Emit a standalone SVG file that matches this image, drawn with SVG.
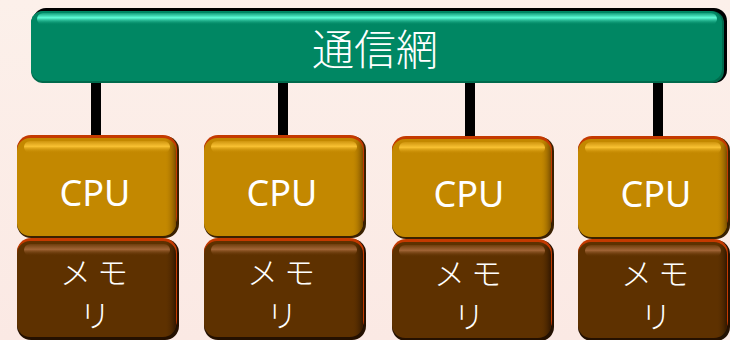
<svg xmlns="http://www.w3.org/2000/svg" width="730" height="340" viewBox="0 0 730 340">
<defs>
<linearGradient id="bg" x1="0" y1="0" x2="0" y2="1">
<stop offset="0" stop-color="#fcf0ea"/><stop offset="1" stop-color="#fbe9e4"/>
</linearGradient>
<linearGradient id="gHi" x1="0" y1="0" x2="0" y2="1">
<stop offset="0" stop-color="#60ffd8" stop-opacity="0.2"/><stop offset="0.4" stop-color="#60ffd8"/><stop offset="1" stop-color="#008763" stop-opacity="0"/>
</linearGradient>
<linearGradient id="cHi" x1="0" y1="0" x2="0" y2="1">
<stop offset="0" stop-color="#ffc840" stop-opacity="0.2"/><stop offset="0.45" stop-color="#ffc838" stop-opacity="0.9"/><stop offset="1" stop-color="#c38800" stop-opacity="0"/>
</linearGradient>
<linearGradient id="mHi" x1="0" y1="0" x2="0" y2="1">
<stop offset="0" stop-color="#b07040" stop-opacity="0.2"/><stop offset="0.45" stop-color="#a86a3c" stop-opacity="0.9"/><stop offset="1" stop-color="#5e3100" stop-opacity="0"/>
</linearGradient>
<linearGradient id="cSide" x1="0" y1="0" x2="1" y2="0">
<stop offset="0" stop-color="#c38800" stop-opacity="0"/><stop offset="0.93" stop-color="#c38800" stop-opacity="0"/><stop offset="1" stop-color="#5a3500" stop-opacity="0.7"/>
</linearGradient>
<linearGradient id="mSide" x1="0" y1="0" x2="1" y2="0">
<stop offset="0" stop-color="#5e3100" stop-opacity="0"/><stop offset="0.93" stop-color="#5e3100" stop-opacity="0"/><stop offset="1" stop-color="#1e0c00" stop-opacity="0.7"/>
</linearGradient>
<style>
.lbl{fill:#ffffff;font-family:"Noto Sans","Noto Sans CJK JP",sans-serif;text-anchor:middle}
.jp{font-family:"Noto Sans CJK JP",sans-serif;font-weight:300}
.cpu-e{fill:#c43a00}
.cpu-s{fill:#3a2000}
.cpu-f{fill:#c38800}
.mem-e{fill:#c43a00}
.mem-s{fill:#241000}
.mem-f{fill:#5e3100}
.link{stroke:#000;stroke-width:10}
</style>
</defs>
<rect width="730" height="340" fill="url(#bg)"/>
<g id="connectors">
<line class="link" x1="96" y1="76" x2="96" y2="137"/>
<line class="link" x1="283" y1="76" x2="283" y2="137"/>
<line class="link" x1="470" y1="76" x2="470" y2="137"/>
<line class="link" x1="658" y1="76" x2="658" y2="137"/>
</g>
<g id="network">
<rect x="33" y="8" width="694" height="75" rx="13" fill="#000"/>
<rect x="31" y="11" width="693" height="72" rx="12" fill="#006a4c"/>
<rect x="31" y="11" width="691" height="70" rx="12" fill="#008763"/>
<rect x="37" y="13" width="680" height="12" rx="6" fill="url(#gHi)"/>
<text class="lbl jp" x="375" y="65" font-size="42">通信網</text>
</g>
<g id="node1">
<rect x="17" y="136" width="162" height="102" rx="14" class="cpu-s"/>
<rect x="17" y="135" width="160" height="96" rx="14" class="cpu-e"/>
<rect x="17" y="138" width="159" height="98" rx="13" class="cpu-f"/>
<rect x="17" y="138" width="159" height="98" rx="13" fill="url(#cSide)"/>
<rect x="24" y="141" width="146" height="12" rx="6" fill="url(#cHi)"/>
<text class="lbl" x="95" y="206" font-size="36">CPU</text>
<rect x="17" y="239" width="162" height="101" rx="14" class="mem-s"/>
<rect x="17" y="238" width="160" height="96" rx="14" class="mem-e"/>
<rect x="17" y="241" width="159" height="96" rx="13" class="mem-f"/>
<rect x="17" y="241" width="159" height="96" rx="13" fill="url(#mSide)"/>
<rect x="24" y="244" width="146" height="12" rx="6" fill="url(#mHi)"/>
<text class="lbl jp" font-size="31"><tspan x="97" y="284" letter-spacing="6">メモ</tspan><tspan x="95" y="327">リ</tspan></text>
</g>
<g id="node2">
<rect x="204" y="136" width="162" height="102" rx="14" class="cpu-s"/>
<rect x="204" y="135" width="160" height="96" rx="14" class="cpu-e"/>
<rect x="204" y="138" width="159" height="98" rx="13" class="cpu-f"/>
<rect x="204" y="138" width="159" height="98" rx="13" fill="url(#cSide)"/>
<rect x="211" y="141" width="146" height="12" rx="6" fill="url(#cHi)"/>
<text class="lbl" x="282" y="206" font-size="36">CPU</text>
<rect x="204" y="239" width="162" height="101" rx="14" class="mem-s"/>
<rect x="204" y="238" width="160" height="96" rx="14" class="mem-e"/>
<rect x="204" y="241" width="159" height="96" rx="13" class="mem-f"/>
<rect x="204" y="241" width="159" height="96" rx="13" fill="url(#mSide)"/>
<rect x="211" y="244" width="146" height="12" rx="6" fill="url(#mHi)"/>
<text class="lbl jp" font-size="31"><tspan x="284" y="284" letter-spacing="6">メモ</tspan><tspan x="282" y="327">リ</tspan></text>
</g>
<g id="node3">
<rect x="392" y="137" width="162" height="102" rx="14" class="cpu-s"/>
<rect x="392" y="136" width="160" height="96" rx="14" class="cpu-e"/>
<rect x="392" y="139" width="159" height="98" rx="13" class="cpu-f"/>
<rect x="392" y="139" width="159" height="98" rx="13" fill="url(#cSide)"/>
<rect x="399" y="142" width="146" height="12" rx="6" fill="url(#cHi)"/>
<text class="lbl" x="469" y="207" font-size="36">CPU</text>
<rect x="392" y="240" width="162" height="101" rx="14" class="mem-s"/>
<rect x="392" y="239" width="160" height="96" rx="14" class="mem-e"/>
<rect x="392" y="242" width="159" height="96" rx="13" class="mem-f"/>
<rect x="392" y="242" width="159" height="96" rx="13" fill="url(#mSide)"/>
<rect x="399" y="245" width="146" height="12" rx="6" fill="url(#mHi)"/>
<text class="lbl jp" font-size="31"><tspan x="471" y="285" letter-spacing="6">メモ</tspan><tspan x="469" y="328">リ</tspan></text>
</g>
<g id="node4">
<rect x="578" y="137" width="152" height="102" rx="14" class="cpu-s"/>
<rect x="578" y="136" width="150" height="96" rx="14" class="cpu-e"/>
<rect x="578" y="139" width="149" height="98" rx="13" class="cpu-f"/>
<rect x="578" y="139" width="149" height="98" rx="13" fill="url(#cSide)"/>
<rect x="585" y="142" width="136" height="12" rx="6" fill="url(#cHi)"/>
<text class="lbl" x="656" y="207" font-size="36">CPU</text>
<rect x="578" y="240" width="152" height="101" rx="14" class="mem-s"/>
<rect x="578" y="239" width="150" height="96" rx="14" class="mem-e"/>
<rect x="578" y="242" width="149" height="96" rx="13" class="mem-f"/>
<rect x="578" y="242" width="149" height="96" rx="13" fill="url(#mSide)"/>
<rect x="585" y="245" width="136" height="12" rx="6" fill="url(#mHi)"/>
<text class="lbl jp" font-size="31"><tspan x="658" y="285" letter-spacing="6">メモ</tspan><tspan x="656" y="328">リ</tspan></text>
</g>
</svg>
